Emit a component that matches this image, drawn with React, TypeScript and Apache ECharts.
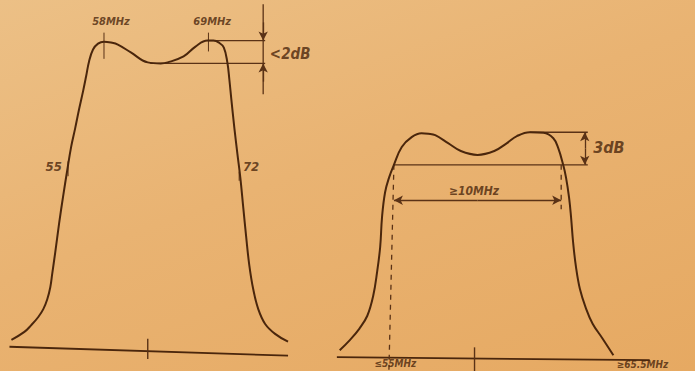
import React, { useEffect, useRef } from "react";
import * as echarts from "echarts";

// ---------- Left response (frequency MHz, level dB) ----------
const LEFT_MHZ = [48.21, 49.58, 50.32, 51.05, 51.58, 52.0, 52.32, 52.53, 52.84, 53.26, 53.68, 54.11, 54.53, 54.95, 55.37, 55.79, 56.11, 56.42, 56.84, 57.37, 58.0, 58.74, 59.47, 60.84, 62.63, 64.0, 64.74, 66.42, 67.68, 68.95, 69.58, 70.16, 70.68, 71.05, 71.26, 71.47, 71.79, 72.11, 72.42, 72.74, 73.05, 73.37, 73.79, 74.32, 75.05, 76.1, 77.47];
const LEFT_DB = [-26.26, -25.57, -24.96, -24.26, -23.57, -22.7, -21.65, -20.43, -18.61, -16.0, -13.65, -11.39, -9.3, -7.7, -6.0, -4.43, -3.13, -1.83, -0.78, -0.26, -0.09, -0.17, -0.35, -1.04, -1.91, -2.0, -1.91, -1.39, -0.52, 0, 0, -0.17, -0.61, -1.91, -3.39, -5.13, -7.65, -9.91, -12.0, -14.7, -17.3, -19.7, -21.83, -23.57, -24.87, -25.74, -26.43];

// ---------- Right response ----------
const RIGHT_MHZ = [51.76, 52.35, 52.94, 53.41, 53.76, 54.0, 54.18, 54.29, 54.47, 54.71, 55.0, 55.47, 56.06, 56.65, 57.06, 57.47, 58.24, 59.0, 60.0, 61.0, 61.76, 62.35, 63.12, 63.94, 64.53, 64.82, 65.12, 65.29, 65.47, 65.59, 65.71, 65.88, 66.12, 66.47, 66.88, 67.47, 68.12];
const RIGHT_DB = [-20.09, -19.18, -18.09, -16.91, -15.09, -12.82, -10.55, -7.82, -5.55, -4.18, -3.0, -1.36, -0.45, -0.09, -0.14, -0.27, -1.0, -1.73, -2.09, -1.73, -1.0, -0.36, 0, -0.05, -0.55, -1.45, -3.0, -4.18, -6.0, -7.82, -10.09, -12.36, -14.45, -16.18, -17.64, -19.0, -20.55];

// ---------- Left annotations ----------
const LEFT_PEAK_MHZ = [58.0, 69.05];
const LEFT_PEAK_LABELS = ["58MHz", "69MHz"];
const LEFT_PEAK_LABEL_MHZ = [58.8, 69.5];
const LEFT_RIPPLE_DB = [0, -2];
const LEFT_RIPPLE_FROM_MHZ = [68.95, 62.9];
const LEFT_RIPPLE_TO_MHZ = 75.05;
const LEFT_RIPPLE_ARROW_MHZ = 74.84;
const LEFT_RIPPLE_ARROW_ENDS_DB = [3.2, -4.7];
const LEFT_RIPPLE_LABEL = "<2dB";
const LEFT_EDGE_MHZ = [54.2, 72.3];
const LEFT_EDGE_LABELS = ["55", "72"];
const LEFT_EDGE_DB = -11.1;
const LEFT_BASE_MHZ = [48.0, 77.47];
const LEFT_BASE_DB = [-26.87, -27.65];
const LEFT_CENTER_MHZ = 62.63;

// ---------- Right annotations ----------
const RIGHT_PEAK_MHZ = 63.12;
const RIGHT_REF_TO_MHZ = 66.59;
const RIGHT_BAND_MHZ = [55, 65];
const RIGHT_BAND_DB = -3;
const RIGHT_ARROW_MHZ = 66.41;
const RIGHT_DB_LABEL = "3dB";
const RIGHT_BW_LABEL = "≥10MHz";
const RIGHT_BW_ARROW_DB = -6.27;
const RIGHT_BASE_MHZ = [51.59, 70.29];
const RIGHT_BASE_DB = [-20.73, -21.0];
const RIGHT_CENTER_MHZ = 59.82;
const RIGHT_EDGE_LABELS = ["≤55MHz", "≥65.5MHz"];

const INK = "#4a260c";
const INK2 = "#5a3216";
const FONT = '"DejaVu Sans Condensed", "Liberation Sans Narrow", "Roboto", sans-serif';

const pairs = (xs: number[], ys: number[]) => xs.map((x, i) => [x, ys[i]]);

function seg(g: number, pts: number[][], width = 1.2, type: any = "solid", color = INK2) {
  return {
    type: "line",
    xAxisIndex: g,
    yAxisIndex: g,
    data: pts,
    symbol: "none",
    silent: true,
    lineStyle: { color, width, type },
    z: 3,
  };
}

function arrow(g: number, from: number[], to: number[]) {
  return {
    type: "line",
    xAxisIndex: g,
    yAxisIndex: g,
    data: [],
    symbol: "none",
    silent: true,
    markLine: {
      silent: true,
      animation: false,
      symbol: ["none", "arrow"],
      symbolSize: [7, 9],
      label: { show: false },
      lineStyle: { color: INK2, width: 1.3, type: "solid" },
      data: [[{ coord: from }, { coord: to }]],
    },
  };
}

function texts(g: number, items: any[]) {
  return {
    type: "scatter",
    xAxisIndex: g,
    yAxisIndex: g,
    symbolSize: 1,
    silent: true,
    itemStyle: { color: "rgba(0,0,0,0)" },
    label: {
      show: true,
      position: [0, 0],
      formatter: "{b}",
      color: INK,
      fontFamily: FONT,
      fontStyle: "italic",
      fontWeight: "bold",
    },
    data: items.map((t) => ({
      name: t.text,
      value: [t.x, t.y],
      label: { align: t.align || "center", verticalAlign: t.va || "middle", fontSize: t.size || 13 },
    })),
    z: 5,
  };
}

export default function App() {
  const ref = useRef<HTMLDivElement>(null);
  useEffect(() => {
    if (!ref.current) return;
    const chart = echarts.init(ref.current, null, { renderer: "svg" });
    const series: any[] = [
      // Left curve
      {
        type: "line",
        xAxisIndex: 0,
        yAxisIndex: 0,
        data: pairs(LEFT_MHZ, LEFT_DB),
        smooth: 0.4,
        symbol: "none",
        silent: true,
        lineStyle: { color: INK, width: 2 },
        z: 4,
      },
      seg(0, pairs(LEFT_BASE_MHZ, LEFT_BASE_DB), 1.8, "solid", INK),
      seg(0, [[LEFT_CENTER_MHZ, -26.17], [LEFT_CENTER_MHZ, -27.95]], 1.4),
      seg(0, [[LEFT_PEAK_MHZ[0], 0.7], [LEFT_PEAK_MHZ[0], -1.6]], 1),
      seg(0, [[LEFT_PEAK_MHZ[1], 0.7], [LEFT_PEAK_MHZ[1], -0.95]], 1),
      seg(0, [[LEFT_RIPPLE_FROM_MHZ[0], LEFT_RIPPLE_DB[0]], [LEFT_RIPPLE_TO_MHZ, LEFT_RIPPLE_DB[0]]], 1.3),
      seg(0, [[LEFT_RIPPLE_FROM_MHZ[1], LEFT_RIPPLE_DB[1]], [LEFT_RIPPLE_TO_MHZ, LEFT_RIPPLE_DB[1]]], 1.3),
      seg(0, [[LEFT_RIPPLE_ARROW_MHZ, LEFT_RIPPLE_ARROW_ENDS_DB[0]], [LEFT_RIPPLE_ARROW_MHZ, LEFT_RIPPLE_ARROW_ENDS_DB[1]]], 1.3),
      arrow(0, [LEFT_RIPPLE_ARROW_MHZ, 1.6], [LEFT_RIPPLE_ARROW_MHZ, LEFT_RIPPLE_DB[0]]),
      arrow(0, [LEFT_RIPPLE_ARROW_MHZ, -3.6], [LEFT_RIPPLE_ARROW_MHZ, LEFT_RIPPLE_DB[1]]),
      seg(0, [[LEFT_EDGE_MHZ[0], -10.6], [LEFT_EDGE_MHZ[0], -11.9]], 1),
      seg(0, [[LEFT_EDGE_MHZ[1], -11.5], [LEFT_EDGE_MHZ[1], -12.3]], 1),
      texts(0, [
        { text: LEFT_PEAK_LABELS[0], x: LEFT_PEAK_LABEL_MHZ[0], y: 1.6, size: 11 },
        { text: LEFT_PEAK_LABELS[1], x: LEFT_PEAK_LABEL_MHZ[1], y: 1.6, size: 11 },
        { text: LEFT_RIPPLE_LABEL, x: 75.6, y: -1.2, align: "left", size: 15 },
        { text: LEFT_EDGE_LABELS[0], x: 53.6, y: LEFT_EDGE_DB, align: "right", size: 13 },
        { text: LEFT_EDGE_LABELS[1], x: 72.75, y: LEFT_EDGE_DB, align: "left", size: 13 },
      ]),

      // Right curve
      {
        type: "line",
        xAxisIndex: 1,
        yAxisIndex: 1,
        data: pairs(RIGHT_MHZ, RIGHT_DB),
        smooth: 0.4,
        symbol: "none",
        silent: true,
        lineStyle: { color: INK, width: 2 },
        z: 4,
      },
      seg(1, pairs(RIGHT_BASE_MHZ, RIGHT_BASE_DB), 1.8, "solid", INK),
      seg(1, [[RIGHT_CENTER_MHZ, -19.82], [RIGHT_CENTER_MHZ, -22]], 1.4),
      seg(1, [[RIGHT_PEAK_MHZ, 0], [RIGHT_REF_TO_MHZ, 0]], 1.3),
      seg(1, [[RIGHT_BAND_MHZ[0], RIGHT_BAND_DB], [RIGHT_REF_TO_MHZ, RIGHT_BAND_DB]], 1.3),
      arrow(1, [RIGHT_ARROW_MHZ, -1.5], [RIGHT_ARROW_MHZ, 0]),
      arrow(1, [RIGHT_ARROW_MHZ, -1.5], [RIGHT_ARROW_MHZ, RIGHT_BAND_DB]),
      seg(1, [[RIGHT_BAND_MHZ[0], RIGHT_BAND_DB], [RIGHT_BAND_MHZ[0] - 0.3, -22]], 1.3, [5, 5]),
      seg(1, [[RIGHT_BAND_MHZ[1], RIGHT_BAND_DB], [RIGHT_BAND_MHZ[1], -7.1]], 1.3, [5, 5]),
      arrow(1, [60, RIGHT_BW_ARROW_DB], [RIGHT_BAND_MHZ[0], RIGHT_BW_ARROW_DB]),
      arrow(1, [60, RIGHT_BW_ARROW_DB], [RIGHT_BAND_MHZ[1], RIGHT_BW_ARROW_DB]),
      texts(1, [
        { text: RIGHT_DB_LABEL, x: 66.94, y: -1.45, align: "left", size: 16 },
        { text: RIGHT_BW_LABEL, x: RIGHT_CENTER_MHZ, y: -5.45, size: 12 },
        { text: RIGHT_EDGE_LABELS[0], x: 55.12, y: -20.85, va: "top", size: 10 },
        { text: RIGHT_EDGE_LABELS[1], x: 68.35, y: -20.95, align: "left", va: "top", size: 10 },
      ]),
    ];

    chart.setOption({
      animation: false,
      backgroundColor: "transparent",
      grid: [
        { left: -1.5, top: 0.75, width: 304, height: 373.75 },
        { left: 327, top: 2, width: 374, height: 374 },
      ],
      xAxis: [
        { type: "value", gridIndex: 0, min: 47, max: 79, show: false },
        { type: "value", gridIndex: 1, min: 51, max: 73, show: false },
      ],
      yAxis: [
        { type: "value", gridIndex: 0, min: -29, max: 3.5, show: false },
        { type: "value", gridIndex: 1, min: -22, max: 12, show: false },
      ],
      series,
    });
    return () => chart.dispose();
  }, []);

  return (
    <div
      style={{
        position: "fixed",
        left: 0,
        top: 0,
        width: 695,
        height: 371,
        background: "linear-gradient(160deg, #ecc086 0%, #e9b372 45%, #e6a962 100%)",
        overflow: "hidden",
      }}
    >
      <div ref={ref} style={{ width: 695, height: 371 }} />
    </div>
  );
}
